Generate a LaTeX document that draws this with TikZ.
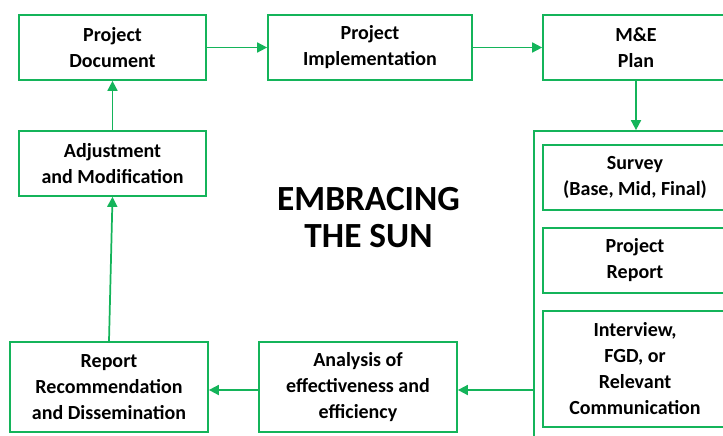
\documentclass[tikz,border=0pt]{standalone}
\usepackage{fontspec}
\setmainfont{Carlito}
\usetikzlibrary{arrows.meta}
\definecolor{gr}{RGB}{20,180,90}
\tikzset{
  box/.style={draw=gr, line width=1.3pt, fill=white, inner sep=0pt, align=center,
    font=\bfseries\fontsize{15}{19.5}\selectfont, text=black},
  conn/.style={draw=gr, line width=1.3pt, -{Triangle[length=7.5pt,width=7.5pt]}},
}
\begin{document}
\begin{tikzpicture}[x=0.75pt,y=-0.75pt]
\useasboundingbox (0,0) rectangle (723,435);
\clip (0,0) rectangle (723,435);
\fill[white] (0,0) rectangle (723,435);
\node[box, minimum width=187*0.75pt, minimum height=65*0.75pt] (pd) at (112.5,47.5) {Project\\Document};
\node[box, minimum width=204*0.75pt, minimum height=65*0.75pt] (pi) at (370,47.5) {Project\\Implementation};
\node[box, minimum width=186*0.75pt, minimum height=65*0.75pt] (me) at (636,47.5) {M\&E\\Plan};
\node[box, minimum width=187*0.75pt, minimum height=65*0.75pt] (adj) at (112.5,163.5) {Adjustment\\and Modification};
\node[draw=gr, line width=1.3pt, inner sep=0pt, minimum width=210*0.75pt, minimum height=320*0.75pt] (cont) at (639,291) {};
\node[box, minimum width=184*0.75pt, minimum height=65*0.75pt] (sv) at (635,177.5) {Survey\\(Base, Mid, Final)};
\node[box, minimum width=184*0.75pt, minimum height=65*0.75pt] (prep) at (635,260.5) {Project\\Report};
\node[box, minimum width=184*0.75pt, minimum height=116*0.75pt] (iv) at (635,369) {Interview,\\FGD, or\\Relevant\\Communication};
\node[box, minimum width=198*0.75pt, minimum height=90*0.75pt] (rr) at (109,387) {Report\\Recommendation\\and Dissemination};
\node[box, minimum width=198*0.75pt, minimum height=90*0.75pt] (an) at (358,387) {Analysis of\\effectiveness and\\efficiency};
\node[align=center, inner sep=0pt, font=\bfseries\fontsize{26.5}{27.75}\selectfont, text=black] (title) at (368.5,217.5) {EMBRACING\\THE SUN};
\draw[conn] (pd) -- (pi);
\draw[conn] (pi) -- (me);
\draw[conn] (me.south) -- (me.south |- cont.north);
\coordinate (c1) at (cont.west |- 0,390);
\draw[conn] (c1) -- (an.east |- c1);
\draw[conn] (an.west |- c1) -- (rr.east |- c1);
\draw[conn] (rr.north) -- (adj.south);
\draw[conn] (adj.north) -- (pd.south);
\end{tikzpicture}
\end{document}
